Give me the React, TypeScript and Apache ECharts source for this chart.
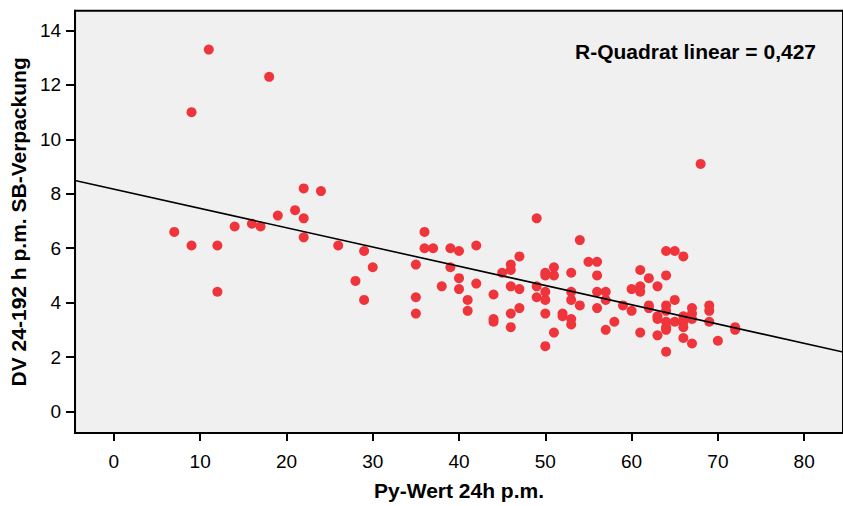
import React, { useEffect, useRef } from "react";
import * as echarts from "echarts";

const pyWert: number[] = [
  7, 9, 9, 11, 12, 12, 14, 16, 17, 18, 19, 21, 22, 22, 22, 24, 26, 28, 29, 29, 30,
  35, 35, 35, 36, 36, 37, 38, 39, 39, 40, 40, 40, 41, 41, 42, 42, 44, 44, 44, 45,
  46, 46, 46, 46, 46, 47, 47, 47, 49, 49, 49,
  50, 50, 50, 50, 50, 50, 51, 51, 51, 52, 52, 53, 53, 53, 53, 53, 54, 54, 55,
  56, 56, 56, 56, 57, 57, 57, 58, 59, 60, 60, 61, 61, 61, 61, 62, 62, 62,
  63, 63, 63, 63, 64, 64, 64, 64, 64, 64, 64, 64, 65, 65, 65, 66, 66, 66, 66, 66,
  67, 67, 67, 67, 68, 69, 69, 69, 70, 72, 72,
];

const dvValues: number[] = [
  6.6, 11.0, 6.1, 13.3, 6.1, 4.4, 6.8, 6.9, 6.8, 12.3, 7.2, 7.4, 8.2, 7.1, 6.4, 8.1, 6.1, 4.8, 5.9, 4.1, 5.3,
  5.4, 4.2, 3.6, 6.6, 6.0, 6.0, 4.6, 6.0, 5.3, 5.9, 4.9, 4.5, 4.1, 3.7, 6.1, 4.7, 4.3, 3.4, 3.3, 5.1,
  5.4, 5.2, 4.6, 3.6, 3.1, 5.7, 4.5, 3.8, 7.1, 4.6, 4.2,
  5.1, 5.0, 4.4, 4.1, 3.6, 2.4, 5.3, 5.0, 2.9, 3.6, 3.5, 5.1, 4.4, 4.1, 3.4, 3.2, 6.3, 3.9, 5.5,
  5.5, 5.0, 4.4, 3.8, 4.4, 4.1, 3.0, 3.3, 3.9, 4.5, 3.7, 5.2, 4.6, 4.4, 2.9, 4.9, 3.9, 3.8,
  4.6, 3.5, 3.4, 2.8, 5.9, 5.0, 3.9, 3.7, 3.3, 3.1, 3.0, 2.2, 5.9, 4.1, 3.3, 5.7, 3.5, 3.3, 3.1, 2.7,
  3.8, 3.6, 3.4, 2.5, 9.1, 3.9, 3.7, 3.3, 2.6, 3.1, 3.0,
];

const xTicks: number[] = [0, 10, 20, 30, 40, 50, 60, 70, 80];
const yTicks: number[] = [0, 2, 4, 6, 8, 10, 12, 14];

const fitIntercept = 8.17;
const fitSlope = -0.0708;
const rSquaredText = "R-Quadrat linear = 0,427";

const X_MIN = -4.5;
const X_MAX = 84.5;
const Y_MIN = -0.79;
const Y_MAX = 14.73;

export default function App() {
  const ref = useRef<HTMLDivElement>(null);

  useEffect(() => {
    if (!ref.current) return;
    const chart = echarts.init(ref.current, undefined, { renderer: "svg" });
    const points = pyWert.map((x, i) => [x, dvValues[i]]);
    const fitLine = [X_MIN, X_MAX].map((x) => [x, fitIntercept + fitSlope * x]);
    const font = "'Liberation Sans', Arial, sans-serif";

    chart.setOption({
      animation: false,
      backgroundColor: "#ffffff",
      grid: {
        show: true,
        left: 72.9,
        top: 10.7,
        width: 779.9,
        height: 426,
        backgroundColor: "#f0f0f0",
        borderColor: "#000",
        borderWidth: 2,
        containLabel: false,
      },
      xAxis: {
        type: "value",
        min: X_MIN,
        max: X_MAX,
        name: "Py-Wert 24h p.m.",
        nameLocation: "middle",
        nameGap: 47,
        nameTextStyle: { fontFamily: font, fontWeight: "bold", fontSize: 21, color: "#000" },
        splitLine: { show: false },
        axisLine: { show: true, onZero: false, lineStyle: { color: "#000", width: 2 } },
        axisTick: { show: true, length: 8, lineStyle: { color: "#000", width: 2 }, customValues: xTicks },
        axisLabel: { fontFamily: font, fontSize: 19, color: "#000", margin: 19, customValues: xTicks },
      },
      yAxis: {
        type: "value",
        min: Y_MIN,
        max: Y_MAX,
        name: "DV 24-192 h p.m. SB-Verpackung",
        nameLocation: "middle",
        nameGap: 45,
        nameTextStyle: { fontFamily: font, fontWeight: "bold", fontSize: 21, color: "#000" },
        splitLine: { show: false },
        axisLine: { show: true, onZero: false, lineStyle: { color: "#000", width: 2 } },
        axisTick: { show: true, length: 9, lineStyle: { color: "#000", width: 2 }, customValues: yTicks },
        axisLabel: { fontFamily: font, fontSize: 19, color: "#000", margin: 14, customValues: yTicks },
      },
      series: [
        {
          type: "scatter",
          data: points,
          symbol: "circle",
          symbolSize: 10,
          itemStyle: { color: "#f0343b", opacity: 1 },
          z: 3,
        },
        {
          type: "line",
          data: fitLine,
          showSymbol: false,
          symbol: "none",
          lineStyle: { color: "#000", width: 1.6 },
          z: 4,
          clip: true,
        },
      ],
      graphic: [
        {
          type: "text",
          left: 575,
          top: 41,
          style: {
            text: rSquaredText,
            fontFamily: font,
            fontWeight: "bold",
            fontSize: 21,
            fill: "#000",
          },
          z: 10,
        },
      ],
    });

    return () => chart.dispose();
  }, []);

  return (
    <div
      ref={ref}
      style={{ position: "fixed", left: 0, top: 0, width: 843, height: 506 }}
    />
  );
}
